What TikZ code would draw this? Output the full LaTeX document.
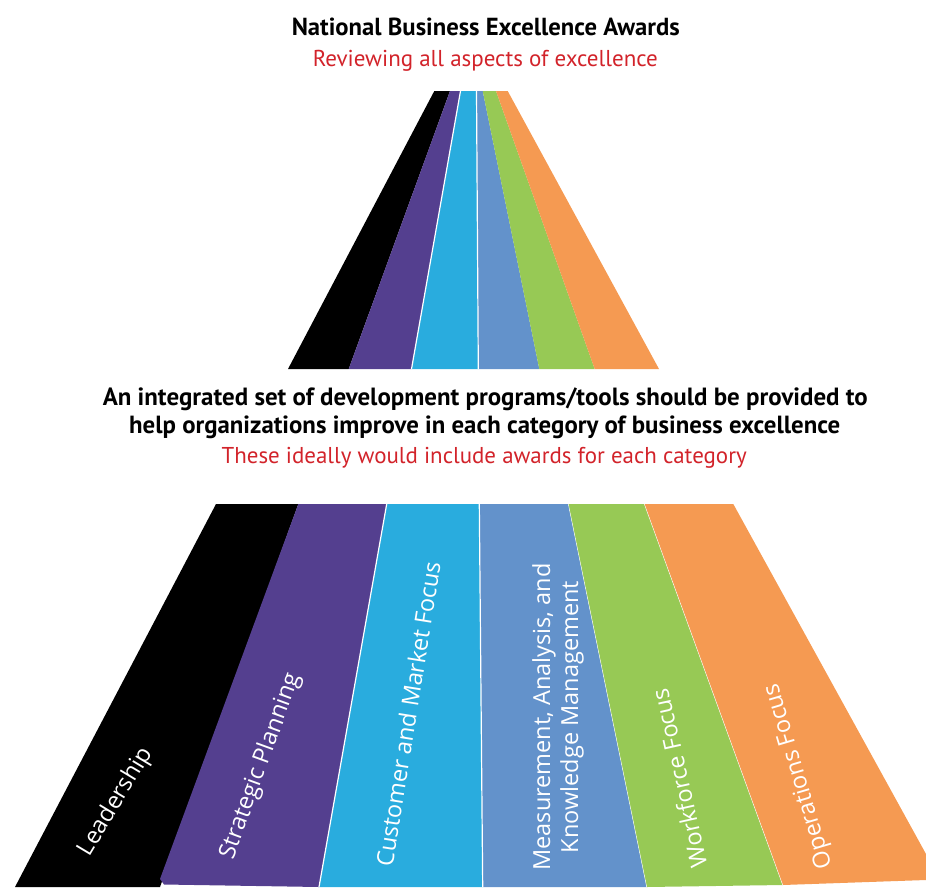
\documentclass[tikz,border=0pt]{standalone}
\usepackage{fontspec}
\usepackage{graphicx}
\newfontfamily\hfont{PT Sans}
\newfontfamily\lfont{Open Sans}
\definecolor{cblack}{HTML}{000000}
\definecolor{cpurple}{HTML}{543F8F}
\definecolor{ccyan}{HTML}{29ACDE}
\definecolor{cblue}{HTML}{6392CB}
\definecolor{cgreen}{HTML}{97C955}
\definecolor{corange}{HTML}{F59A52}
\definecolor{cred}{HTML}{D2232A}
\tikzset{
  sep/.style={white, line width=1.2pt},
  septhin/.style={white, line width=0.4pt},
  head/.style={anchor=base, inner sep=0pt, font=\hfont},
  lab/.style={anchor=center, inner sep=0pt, text=white, font=\lfont\fontsize{23.5}{28}\selectfont, align=center}
}
\begin{document}
\begin{tikzpicture}[x=1pt,y=-1pt]
\useasboundingbox (0,0) rectangle (926,887);
\clip (0,0) rectangle (926,887);
% headings
\node[head] (title) at (485.8,35) {\resizebox{388pt}{!}{\bfseries National Business Excellence Awards}};
\node[head, text=cred] (sub) at (485.3,66) {\resizebox{345pt}{!}{Reviewing all aspects of excellence}};
% top fan
\fill[cblack]  (434.3,91) -- (450,91) -- (348.7,369) -- (288,369) -- cycle;
\fill[cpurple] (450,91) -- (460.5,91) -- (411.5,369) -- (348.7,369) -- cycle;
\fill[ccyan]   (460.5,91) -- (476.5,91) -- (478.3,369) -- (411.5,369) -- cycle;
\fill[cblue]   (476.5,91) -- (482.7,91) -- (539.3,369) -- (478.3,369) -- cycle;
\fill[cgreen]  (482.7,91) -- (496,91) -- (594.7,369) -- (539.3,369) -- cycle;
\fill[corange] (496,91) -- (507.7,91) -- (659,369) -- (594.7,369) -- cycle;
\draw[sep] (460.5,91) -- (411.5,369);
\draw[sep] (476.5,91) -- (478.3,369);
% middle text
\node[head] (m1) at (485.3,405) {\resizebox{765pt}{!}{\bfseries An integrated set of development programs/tools should be provided to}};
\node[head] (m2) at (484.7,433) {\resizebox{711pt}{!}{\bfseries help organizations improve in each category of business excellence}};
\node[head, text=cred] (m3) at (484.2,463) {\resizebox{525pt}{!}{These ideally would include awards for each category}};
% bottom fan
\fill[cblack]  (216,504) -- (298.3,504) -- (160,887) -- (15,887) -- cycle;
\fill[cpurple] (298.3,504) -- (386.7,504) -- (319,887) -- (164,884.5) -- (160,879) -- cycle;
\fill[ccyan]   (386.7,504) -- (479.3,504) -- (482.7,887) -- (319,887) -- cycle;
\fill[cblue]   (479.3,504) -- (568.3,504) -- (646.7,887) -- (482.7,887) -- cycle;
\fill[cgreen]  (568.3,504) -- (644.3,504) -- (782.7,885) -- (646.7,887) -- cycle;
\fill[corange] (644.3,504) -- (733.3,504) -- (926,854) -- (926,880) -- (782.7,885) -- cycle;
\draw[sep] (386.7,504) -- (319,887);
\draw[sep] (479.3,504) -- (482.7,887);
\draw[septhin] (568.3,504) -- (646.7,887);
\draw[septhin] (644.3,504) -- (782.7,885);
% labels
\node[lab, rotate=59] (l1) at (116,802) {Leadership};
\node[lab, rotate=70] (l2) at (261,766) {Strategic Planning};
\node[lab, rotate=81] (l3) at (408,714) {Customer and Market Focus};
\node[lab, rotate=90] (l4) at (558,717) {Measurement, Analysis, and\\Knowledge Management};
\node[lab, rotate=102.6] (l5) at (679,778) {Workforce Focus};
\node[lab, rotate=106.5] (l6) at (799,776) {Operations Focus};
\end{tikzpicture}
\end{document}
